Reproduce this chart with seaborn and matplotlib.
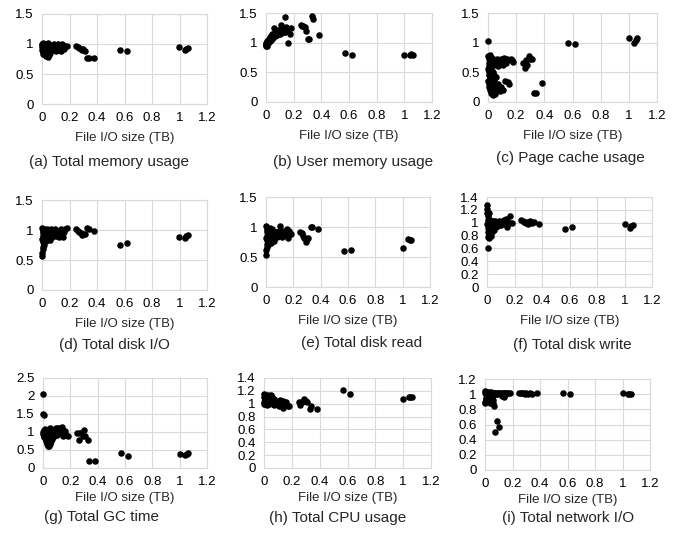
import matplotlib
matplotlib.use("Agg")
import matplotlib.pyplot as plt
import seaborn as sns
import pandas as pd
from matplotlib.ticker import FuncFormatter, MultipleLocator

# File I/O size (TB) of each run, shared by all panels
file_io_tb = [0.000, 0.001, 0.002, 0.003, 0.004, 0.005, 0.006, 0.007, 0.008, 0.009,
              0.010, 0.012, 0.014, 0.016, 0.018, 0.020, 0.022, 0.024, 0.026, 0.028,
              0.030, 0.032, 0.034, 0.036, 0.038, 0.040, 0.042, 0.044, 0.046, 0.048,
              0.050, 0.052, 0.055, 0.058, 0.060, 0.063, 0.066, 0.070, 0.074, 0.078,
              0.082, 0.086, 0.090, 0.095, 0.100, 0.105, 0.110, 0.115, 0.120, 0.128,
              0.135, 0.140, 0.145, 0.150, 0.160, 0.170, 0.180,
              0.250, 0.260, 0.270, 0.280, 0.290, 0.300, 0.310, 0.330, 0.340, 0.380,
              0.570, 0.620, 1.000, 1.040, 1.050, 1.060]

total_mem = [1.00, 0.95, 0.90, 0.98, 0.86, 0.93, 1.01, 0.88, 0.96, 0.92,
             0.84, 0.97, 0.91, 0.87, 0.99, 0.82, 0.94, 0.89, 1.00, 0.85,
             0.80, 0.93, 0.97, 0.88, 0.83, 1.02, 0.79, 0.91, 0.86, 0.95,
             0.82, 0.98, 0.89, 0.93, 0.85, 0.96, 0.90, 0.94, 0.98, 0.92,
             0.96, 0.90, 1.00, 0.93, 0.97, 0.88, 0.95, 1.00, 0.92, 0.98,
             0.89, 0.96, 1.00, 0.93, 0.91, 0.97, 0.97,
             0.97, 0.95, 0.93, 0.92, 0.90, 0.91, 0.88, 0.77, 0.76, 0.77,
             0.90, 0.88, 0.95, 0.90, 0.92, 0.94]

user_mem = [0.96, 0.94, 0.98, 1.00, 0.95, 0.97, 1.01, 0.99, 0.96, 1.02,
            0.98, 1.03, 1.00, 1.04, 1.02, 1.06, 1.01, 1.05, 1.08, 1.03,
            1.07, 1.10, 1.05, 1.09, 1.12, 1.06, 1.11, 1.08, 1.14, 1.10,
            1.13, 1.09, 1.25, 1.12, 1.15, 1.11, 1.17, 1.14, 1.22, 1.13,
            1.16, 1.20, 1.18, 1.22, 1.15, 1.17, 1.30, 1.19, 1.24, 1.18,
            1.43, 1.18, 1.27, 1.20, 0.99, 1.15, 1.24,
            1.30, 1.28, 1.28, 1.27, 1.20, 1.07, 1.07, 1.45, 1.40, 1.13,
            0.82, 0.80, 0.80, 0.80, 0.81, 0.80]

page_cache = [1.02, 0.78, 0.55, 0.35, 0.65, 0.45, 0.25, 0.72, 0.50, 0.30,
              0.60, 0.20, 0.40, 0.80, 0.18, 0.65, 0.15, 0.55, 0.28, 0.75,
              0.13, 0.50, 0.22, 0.68, 0.12, 0.35, 0.62, 0.15, 0.45, 0.70,
              0.14, 0.25, 0.65, 0.18, 0.42, 0.72, 0.20, 0.60, 0.30, 0.22,
              0.68, 0.18, 0.73, 0.25, 0.70, 0.62, 0.20, 0.74, 0.35, 0.65,
              0.72, 0.33, 0.70, 0.31, 0.73, 0.70, 0.67,
              0.65, 0.58, 0.70, 0.62, 0.77, 0.72, 0.73, 0.15, 0.15, 0.32,
              0.99, 0.97, 1.08, 0.99, 1.04, 1.08]

disk_io = [1.04, 0.56, 0.85, 0.62, 0.95, 0.68, 1.00, 0.72, 0.90, 0.80,
           0.98, 0.75, 0.92, 0.86, 1.02, 0.83, 0.95, 0.88, 0.99, 0.82,
           0.93, 0.97, 0.87, 1.01, 0.90, 0.85, 0.96, 0.91, 0.99, 0.88,
           0.94, 1.00, 0.83, 0.97, 0.91, 0.95, 1.01, 0.89, 0.93, 0.97,
           0.92, 0.99, 0.95, 1.02, 0.90, 0.96, 0.93, 0.99, 0.88, 0.94,
           0.91, 1.02, 0.95, 0.89, 0.97, 1.01, 1.03,
           1.01, 0.98, 0.97, 0.95, 0.92, 0.93, 0.94, 1.03, 1.02, 0.98,
           0.75, 0.78, 0.88, 0.87, 0.90, 0.92]

disk_read = [1.02, 0.53, 0.82, 0.62, 0.95, 0.66, 0.98, 0.72, 0.85, 0.78,
             0.92, 0.70, 0.88, 0.80, 0.96, 0.76, 0.90, 0.84, 0.99, 0.79,
             0.86, 0.92, 0.74, 0.95, 0.83, 0.88, 0.91, 0.80, 0.97, 0.85,
             0.89, 0.93, 0.77, 0.87, 0.82, 0.90, 0.85, 0.92, 0.88, 0.84,
             0.91, 0.86, 0.89, 0.93, 1.02, 0.87, 0.90, 0.84, 0.92, 0.88,
             0.93, 0.86, 0.90, 0.96, 0.82, 0.94, 0.88,
             0.92, 0.90, 0.85, 0.82, 0.75, 0.80, 0.82, 1.00, 1.00, 0.96,
             0.60, 0.62, 0.65, 0.80, 0.79, 0.78]

disk_write = [1.27, 1.22, 0.98, 1.15, 0.85, 1.05, 0.78, 1.10, 0.92, 1.00,
              0.60, 0.82, 1.15, 0.95, 0.76, 1.05, 0.88, 1.00, 0.80, 0.97,
              1.03, 0.90, 1.00, 0.86, 0.98, 1.02, 0.92, 0.97, 1.01, 0.94,
              0.99, 0.88, 1.03, 0.96, 1.00, 0.93, 0.98, 1.01, 0.95, 0.99,
              1.00, 0.96, 1.02, 0.98, 1.01, 0.97, 1.03, 0.99, 1.05, 1.00,
              0.98, 1.06, 0.94, 1.01, 0.99, 1.10, 1.00,
              1.04, 1.02, 1.01, 0.99, 1.01, 0.98, 1.02, 1.00, 1.01, 0.98,
              0.90, 0.94, 0.98, 0.92, 0.95, 0.97]

gc_time = [2.05, 1.50, 1.00, 0.95, 0.90, 1.05, 0.85, 1.47, 0.98, 0.92,
           1.02, 0.88, 0.95, 0.82, 1.08, 0.78, 0.93, 0.75, 1.00, 0.72,
           0.88, 0.68, 0.96, 0.65, 1.05, 0.62, 0.90, 0.60, 0.98, 0.66,
           1.10, 0.70, 0.92, 0.75, 1.02, 0.80, 0.95, 0.85, 1.06, 0.90,
           0.95, 1.08, 0.98, 1.12, 1.00, 0.93, 1.10, 0.96, 1.05, 1.12,
           1.00, 1.13, 0.90, 0.92, 1.02, 0.93, 0.88,
           0.97, 0.78, 0.97, 0.96, 0.89, 1.05, 0.90, 0.78, 0.19, 0.19,
           0.42, 0.33, 0.38, 0.36, 0.40, 0.41]

cpu_usage = [1.15, 1.02, 1.10, 0.99, 1.06, 1.13, 1.00, 1.08, 1.04, 1.12,
             1.01, 1.07, 1.03, 1.11, 0.98, 1.05, 1.09, 1.02, 1.14, 1.00,
             1.06, 1.03, 1.10, 0.99, 1.08, 1.04, 1.12, 1.01, 1.07, 1.13,
             1.05, 1.09, 1.02, 1.06, 1.11, 1.00, 1.04, 1.08, 0.98, 1.03,
             1.01, 1.05, 0.99, 1.03, 1.02, 0.97, 1.04, 1.06, 1.00, 1.02,
             1.05, 0.93, 1.03, 0.99, 1.02, 0.97, 0.97,
             1.02, 0.98, 1.03, 1.05, 1.07, 1.04, 1.02, 0.92, 0.96, 0.92,
             1.22, 1.15, 1.08, 1.10, 1.11, 1.11]

net_io = [1.02, 0.90, 1.04, 0.88, 1.00, 1.01, 0.93, 1.03, 0.95, 1.00,
          1.02, 0.91, 1.01, 1.03, 0.96, 1.00, 1.02, 0.92, 1.01, 1.03,
          0.94, 1.00, 1.02, 0.89, 1.01, 1.03, 0.95, 1.00, 1.02, 0.91,
          0.96, 1.01, 0.92, 1.00, 0.88, 1.02, 0.84, 0.50, 1.01, 1.00,
          1.02, 0.65, 1.00, 1.01, 1.02, 0.57, 1.00, 1.01, 0.97, 1.02,
          1.01, 0.96, 1.02, 1.00, 1.01, 1.02, 1.01,
          1.01, 1.01, 1.01, 1.01, 1.00, 1.01, 1.00, 1.01, 1.00, 1.01,
          1.01, 1.00, 1.01, 1.00, 1.00, 1.00]

captions = ["(a) Total memory usage", "(b) User memory usage", "(c) Page cache usage",
            "(d) Total disk I/O", "(e) Total disk read", "(f) Total disk write",
            "(g) Total GC time", "(h) Total CPU usage", "(i) Total network I/O"]
series = [total_mem, user_mem, page_cache, disk_io, disk_read, disk_write,
          gc_time, cpu_usage, net_io]
y_max = [1.5, 1.5, 1.5, 1.5, 1.5, 1.4, 2.5, 1.4, 1.2]
y_step = [0.5, 0.5, 0.5, 0.5, 0.5, 0.2, 0.5, 0.2, 0.2]

# axes boxes in pixels: left, top, right, bottom
boxes = [(42, 14, 207, 104), (266, 13, 432, 102), (488, 13, 657, 102),
         (42, 200, 207, 290), (266, 197, 430, 287), (487, 197, 652, 287),
         (43, 378, 207, 468), (264, 378, 431, 468), (485, 379, 650, 470)]
# caption centers in pixels
cap_pos = [(109, 162), (353, 162), (570, 158),
           (114, 345), (362, 343), (572, 345),
           (101, 517), (338, 518), (568, 518)]

sns.set_style("white")
plt.rcParams["font.family"] = ["Liberation Sans", "DejaVu Sans"]

W, H = 678, 540
fig = plt.figure(figsize=(W / 100, H / 100), dpi=100)
grid_col = "#d9d9d9"
fmt = FuncFormatter(lambda v, p: f"{v:g}")

for i, ys in enumerate(series):
    l, t, r, b = boxes[i]
    ax = fig.add_axes([l / W, 1 - b / H, (r - l) / W, (b - t) / H])
    df = pd.DataFrame({"x": file_io_tb, "y": ys})
    sns.scatterplot(data=df, x="x", y="y", ax=ax, color="black", s=22,
                    linewidth=0, legend=False, zorder=3, clip_on=False)
    ax.set_xlim(0, 1.2)
    ax.set_ylim(0, y_max[i])
    ax.xaxis.set_major_locator(MultipleLocator(0.2))
    ax.yaxis.set_major_locator(MultipleLocator(y_step[i]))
    ax.xaxis.set_major_formatter(fmt)
    ax.yaxis.set_major_formatter(fmt)
    ax.grid(True, color=grid_col, linewidth=0.8)
    ax.set_axisbelow(True)
    for sp in ax.spines.values():
        sp.set_color(grid_col)
        sp.set_linewidth(0.8)
    ax.tick_params(length=0, labelsize=9.5, colors="black")
    ax.tick_params(axis="x", pad=5.5)
    ax.tick_params(axis="y", pad=6)
    ax.set_xlabel("File I/O size (TB)", fontsize=9.5, labelpad=6 if i < 6 else 3)
    ax.set_ylabel("")
    cx, cy = cap_pos[i]
    fig.text(cx / W, 1 - cy / H, captions[i], ha="center", va="center", fontsize=11)

plt.savefig("out.png", dpi=100)
